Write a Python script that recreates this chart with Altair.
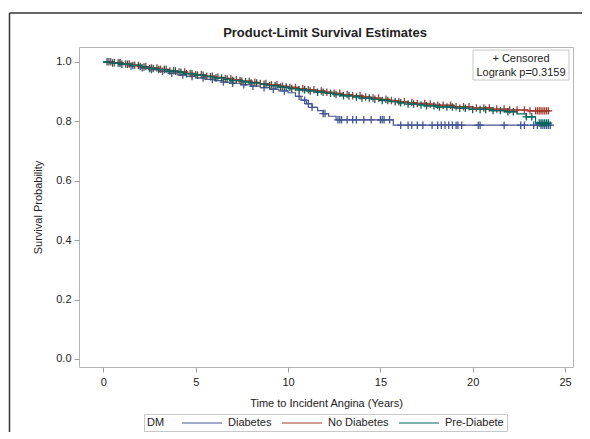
import altair as alt
import pandas as pd

F = "Liberation Sans, Arial, Helvetica, sans-serif"

groups = ["Diabetes", "No Diabetes", "Pre-Diabete"]
colors = ["#445694", "#A23A2E", "#01665E"]

chart_title = "Product-Limit Survival Estimates"
x_title = "Time to Incident Angina (Years)"
y_title = "Survival Probability"
legend_title = "DM"
notes = ["+ Censored", "Logrank p=0.3159"]
x_ticks = [0, 5, 10, 15, 20, 25]
y_ticks = [0.0, 0.2, 0.4, 0.6, 0.8, 1.0]

# Diabetes
dia_t = [0, 0.5, 1, 1.5, 2, 2.5, 3, 3.5, 4, 4.5, 5, 5.5, 6, 6.5, 7, 7.5, 8, 8.5, 9, 9.5,
         10, 10.4, 10.7, 11.0, 11.3, 11.6, 11.9, 12.2, 12.6, 15.7, 24.2]
dia_s = [1.0, 0.996, 0.991, 0.986, 0.980, 0.974, 0.968, 0.962, 0.956, 0.951,
         0.946, 0.941, 0.937, 0.932, 0.928, 0.923, 0.918, 0.913, 0.908, 0.902,
         0.896, 0.884, 0.871, 0.859, 0.847, 0.836, 0.826, 0.817, 0.805, 0.787, 0.787]
dia_c = [0.4, 0.9, 1.5, 2.1, 2.6, 3.2, 3.7, 4.3, 4.8, 5.4, 5.9, 6.5, 7.0, 7.6, 8.1, 8.7,
         9.2, 9.8, 10.6, 10.9, 11.1, 11.3, 11.9, 12.0, 12.7, 12.8, 12.9, 13.2, 13.5, 13.7,
         14.1, 14.5, 15.0, 15.1, 15.2, 15.5, 16.1, 16.5, 16.7, 17.0, 17.3, 17.8, 18.1, 18.3,
         18.5, 18.7, 18.9, 19.1, 19.2, 19.4, 20.3, 20.4, 21.7, 22.6, 22.8, 23.3, 23.5, 23.7,
         23.8, 23.9, 24.0, 24.1, 24.2]

# No Diabetes
nod_t = [0, 0.5, 1, 1.5, 2, 2.5, 3, 3.5, 4, 4.5, 5, 5.5, 6, 6.5, 7, 7.5, 8, 8.5, 9, 9.5,
         10, 10.5, 11, 11.5, 12, 12.5, 13, 13.5, 14, 14.5, 15, 15.5, 16, 16.5, 17, 17.5,
         18, 19, 20, 21, 22, 23, 24.1]
nod_s = [1.0, 0.997, 0.993, 0.989, 0.984, 0.979, 0.975, 0.970, 0.966, 0.961,
         0.957, 0.952, 0.948, 0.944, 0.940, 0.935, 0.931, 0.927, 0.923, 0.918,
         0.914, 0.910, 0.906, 0.902, 0.898, 0.894, 0.890, 0.886, 0.882, 0.878,
         0.874, 0.870, 0.866, 0.863, 0.860, 0.858,
         0.854, 0.849, 0.845, 0.841, 0.838, 0.835, 0.835]
nod_c = [0.3, 0.6, 0.9, 1.2, 1.4, 1.7, 2.0, 2.3, 2.6, 2.9, 3.1, 3.4, 3.8, 4.1, 4.4, 4.7,
         5.0, 5.3, 5.6, 5.9, 6.2, 6.6, 6.9, 7.2, 7.5, 7.9, 8.2, 8.5, 8.8, 9.1, 9.4, 9.7,
         10.1, 10.4, 10.8, 11.1, 11.4, 11.8, 12.1, 12.5, 12.8, 13.2, 13.5, 13.9, 14.2, 14.6,
         14.9, 15.3, 15.6, 16.0, 16.3, 16.7, 17.0, 17.4, 17.7, 18.1, 18.4, 18.8, 19.1, 19.5,
         19.8, 20.2, 20.6, 20.9, 21.3, 21.7, 22.0, 22.4, 22.8, 23.1, 23.4, 23.5, 23.6, 23.7,
         23.8, 23.9, 24.0, 24.1]

# Pre-Diabete
pre_t = [0, 0.5, 1, 1.5, 2, 2.5, 3, 3.5, 4, 4.5, 5, 5.5, 6, 6.5, 7, 7.5, 8, 8.5, 9, 9.5,
         10, 10.5, 11, 11.5, 12, 12.5, 13, 13.5, 14, 14.5, 15, 15.5, 16, 16.5, 17, 17.5,
         18, 19, 20, 21, 21.8, 22.4, 22.9, 23.4, 24.1]
pre_s = [1.0, 0.996, 0.992, 0.988, 0.983, 0.978, 0.974, 0.969, 0.965, 0.960,
         0.955, 0.950, 0.946, 0.942, 0.937, 0.933, 0.929, 0.925, 0.920, 0.915,
         0.910, 0.906, 0.902, 0.898, 0.894, 0.890, 0.886, 0.882, 0.878, 0.874,
         0.870, 0.866, 0.862, 0.858, 0.855, 0.852,
         0.848, 0.844, 0.840, 0.836, 0.832, 0.825, 0.815, 0.794, 0.794]
pre_c = [0.2, 0.5, 0.8, 1.0, 1.3, 1.6, 1.9, 2.2, 2.5, 2.7, 3.0, 3.3, 3.6, 3.9, 4.2, 4.5,
         4.8, 5.1, 5.4, 5.8, 6.1, 6.4, 6.7, 7.0, 7.4, 7.7, 8.0, 8.3, 8.7, 9.0, 9.3, 9.6,
         9.9, 10.2, 10.6, 10.9, 11.2, 11.6, 11.9, 12.3, 12.6, 13.0, 13.3, 13.7, 14.0, 14.4,
         14.7, 15.1, 15.4, 15.8, 16.1, 16.5, 16.8, 17.2, 17.5, 17.9, 18.2, 18.6, 18.9, 19.3,
         19.6, 20.0, 20.4, 20.7, 21.1, 21.5, 21.9, 22.2, 22.9, 23.2, 23.6, 23.7, 23.8, 23.9,
         24.0, 24.1]

series = [(groups[0], dia_t, dia_s, dia_c),
          (groups[1], nod_t, nod_s, nod_c),
          (groups[2], pre_t, pre_s, pre_c)]


def step_at(ts, ss, t):
    v = ss[0]
    for a, b in zip(ts, ss):
        if a <= t:
            v = b
    return v


line_rows, cens_rows = [], []
for g, ts, ss, cs in series:
    for a, b in zip(ts, ss):
        line_rows.append({"group": g, "t": a, "s": b})
    for c in cs:
        cens_rows.append({"group": g, "t": c, "s": step_at(ts, ss, c)})
curves = pd.DataFrame(line_rows)
cens = pd.DataFrame(cens_rows)
dummy = pd.DataFrame({"k": [0]})

xs = alt.Scale(domain=[-1.32, 25.43], nice=False, zero=False)
ys = alt.Scale(domain=[-0.027, 1.05], nice=False, zero=False)
cs_ = alt.Scale(domain=groups, range=colors)

lines = alt.Chart(curves).mark_line(interpolate="step-after", strokeWidth=1.2).encode(
    x=alt.X("t:Q", scale=xs, axis=alt.Axis(values=x_ticks, format="d", title=x_title,
                                             titlePadding=10, labelPadding=4)),
    y=alt.Y("s:Q", scale=ys, axis=alt.Axis(values=y_ticks, format=".1f", title=y_title,
                                             titlePadding=12, labelPadding=3)),
    color=alt.Color("group:N", scale=cs_, legend=alt.Legend(
        orient="none", legendX=65, legendY=367, direction="horizontal",
        title=legend_title, titleOrient="left", titlePadding=17,
        symbolType="M-4,0L4,0", symbolSize=100, symbolStrokeWidth=1.1,
        symbolOffset=14, labelOffset=20,
        strokeColor="#c8c8c8", padding=3, columnPadding=7,
        labelFont=F, labelFontSize=11, labelColor="#222",
        titleFont=F, titleFontSize=11, titleFontWeight="normal", titleColor="#222")),
    order=alt.Order("t:Q"),
)

plus = "M-1,0L1,0M0,-1L0,1"
points = alt.Chart(cens).mark_point(shape=plus, filled=False, size=56, strokeWidth=1.3, opacity=1).encode(
    x=alt.X("t:Q", scale=xs),
    y=alt.Y("s:Q", scale=ys),
    color=alt.Color("group:N", scale=cs_, legend=None),
)

title_txt = alt.Chart(dummy).mark_text(text=chart_title, font=F, fontSize=13, fontWeight="bold",
                                      color="#222", baseline="middle").encode(
    x=alt.value(246), y=alt.value(-14))
box = alt.Chart(dummy).mark_rect(fill="white", stroke="#c8c8c8", strokeWidth=1).encode(
    x=alt.value(394), x2=alt.value(490), y=alt.value(3), y2=alt.value(33))
t1 = alt.Chart(dummy).mark_text(text=notes[0], font=F, fontSize=11, color="#222").encode(
    x=alt.value(442), y=alt.value(12))
t2 = alt.Chart(dummy).mark_text(text=notes[1], font=F, fontSize=11, color="#222").encode(
    x=alt.value(442), y=alt.value(26))

frame_v = alt.Chart(dummy).mark_rule(color="#333", strokeWidth=1.5).encode(
    x=alt.value(-69.5), y=alt.value(-34), y2=alt.value(420))
frame_h = alt.Chart(dummy).mark_rule(color="#333", strokeWidth=1.5).encode(
    x=alt.value(-69.5), x2=alt.value(520), y=alt.value(-34))

chart = alt.layer(lines, points, box, t1, t2, title_txt, frame_v, frame_h).properties(
    width=494, height=320,
    autosize=alt.AutoSizeParams(type="none"),
    padding={"left": 71, "top": 39, "right": 9, "bottom": 65},
).configure_view(stroke="#b5b5b5", strokeWidth=1).configure_axis(
    domain=False, grid=False, tickColor="#a0a0a0", tickSize=5,
    labelFont=F, labelFontSize=11, labelColor="#222",
    titleFont=F, titleFontSize=11, titleFontWeight="normal", titleColor="#222",
)

chart.save("out.html", embed_options={"renderer": "svg", "actions": False})
